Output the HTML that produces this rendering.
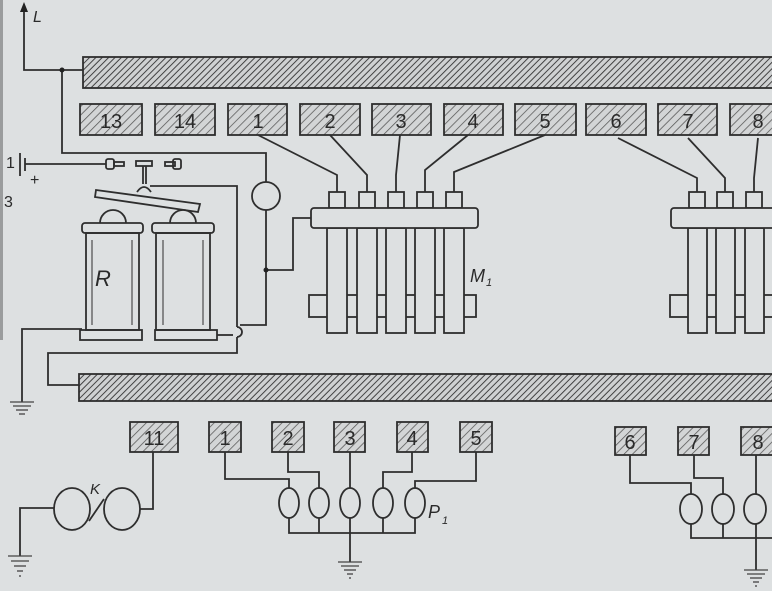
<!DOCTYPE html>
<html><head><meta charset="utf-8"><style>
html,body{margin:0;padding:0;background:#dde0e1;}
svg{display:block;}
text{font-family:"Liberation Sans",sans-serif;fill:#2a2a2a;}
</style></head><body>
<svg width="772" height="591" viewBox="0 0 772 591" xmlns="http://www.w3.org/2000/svg">
<defs>
<pattern id="h" width="4.5" height="4.5" patternUnits="userSpaceOnUse" patternTransform="rotate(45)">
<rect width="5" height="5" fill="#cfd1d2"/><line x1="0" y1="0" x2="0" y2="5" stroke="#333" stroke-width="1.8"/>
</pattern>
<pattern id="h2" width="6" height="6" patternUnits="userSpaceOnUse" patternTransform="rotate(45)">
<rect width="6" height="6" fill="#d3d5d6"/><line x1="0" y1="0" x2="0" y2="6" stroke="#555" stroke-width="1.5"/>
</pattern>
</defs>
<rect x="0" y="0" width="3" height="340" fill="#9a9c9d"/>
<g stroke="#2e2e2e" stroke-width="1.8" fill="none">
<rect x="83" y="57" width="700" height="31" fill="url(#h)"/>
<rect x="79" y="374" width="700" height="27" fill="url(#h)"/>
<rect x="80" y="104" width="62" height="31" fill="url(#h2)"/>
<rect x="155" y="104" width="60" height="31" fill="url(#h2)"/>
<rect x="228" y="104" width="59" height="31" fill="url(#h2)"/>
<rect x="300" y="104" width="60" height="31" fill="url(#h2)"/>
<rect x="372" y="104" width="59" height="31" fill="url(#h2)"/>
<rect x="444" y="104" width="59" height="31" fill="url(#h2)"/>
<rect x="515" y="104" width="61" height="31" fill="url(#h2)"/>
<rect x="586" y="104" width="60" height="31" fill="url(#h2)"/>
<rect x="658" y="104" width="59" height="31" fill="url(#h2)"/>
<rect x="730" y="104" width="50" height="31" fill="url(#h2)"/>
<polyline points="24,8 24,70 83,70"/>
<polyline points="62,70 62,153 266,153 266,182"/>
<circle cx="266" cy="196" r="14" fill="#dde0e1"/>
<polyline points="266,210 266,325 240,325"/>
<polyline points="266,270 293,270 293,218 311,218"/>
<line x1="20" y1="153" x2="20" y2="176"/><line x1="25" y1="158" x2="25" y2="171"/>
<line x1="25" y1="164" x2="106" y2="164"/>
<rect x="106" y="159" width="8" height="10" rx="2"/><rect x="114" y="162" width="10" height="4"/>
<rect x="136" y="161" width="16" height="5"/>
<rect x="165" y="162" width="10" height="4"/><rect x="173" y="159" width="8" height="10" rx="2"/>
<line x1="143" y1="166" x2="143" y2="184"/><line x1="146" y1="166" x2="146" y2="184"/>
<polyline points="150,186 237,186 237,327"/>
<path d="M237,327 a5,5 0 0 1 0,10" />
<polyline points="237,337 237,353 48,353 48,385 79,385"/>
<polygon points="96,190 200,204 198,212 95,197" fill="#dde0e1"/>
<path d="M137,192 q7,-10 14,0" fill="#dde0e1"/>
<path d="M100,223 a13,13 0 0 1 26,0" fill="#dde0e1"/>
<path d="M170,223 a13,13 0 0 1 26,0" fill="#dde0e1"/>
<rect x="82" y="223" width="61" height="10" rx="3" fill="#dde0e1"/>
<rect x="152" y="223" width="62" height="10" rx="3" fill="#dde0e1"/>
<rect x="86" y="233" width="53" height="97"/>
<rect x="156" y="233" width="54" height="97"/>
<line x1="92" y1="240" x2="92" y2="325" stroke-width="1"/><line x1="132" y1="240" x2="132" y2="325" stroke-width="1"/>
<line x1="163" y1="240" x2="163" y2="325" stroke-width="1"/><line x1="203" y1="240" x2="203" y2="325" stroke-width="1"/>
<rect x="80" y="330" width="62" height="10"/>
<rect x="155" y="330" width="62" height="10"/>
<polyline points="217,335 233,335"/>
<polyline points="82,329 22,329 22,402"/>
<rect x="309" y="295" width="167" height="22" fill="#dde0e1"/>
<g fill="#dde0e1">
<rect x="327" y="228" width="20" height="105"/><rect x="357" y="228" width="20" height="105"/>
<rect x="386" y="228" width="20" height="105"/><rect x="415" y="228" width="20" height="105"/>
<rect x="444" y="228" width="20" height="105"/>
<rect x="329" y="192" width="16" height="16"/><rect x="359" y="192" width="16" height="16"/>
<rect x="388" y="192" width="16" height="16"/><rect x="417" y="192" width="16" height="16"/>
<rect x="446" y="192" width="16" height="16"/>
<rect x="311" y="208" width="167" height="20" rx="3"/>
</g>
<polyline points="258,135 337,175 337,192"/>
<polyline points="330,135 367,175 367,192"/>
<polyline points="400,135 396,175 396,192"/>
<polyline points="468,135 425,170 425,192"/>
<polyline points="545,135 454,172 454,192"/>
<rect x="670" y="295" width="120" height="22" fill="#dde0e1"/>
<g fill="#dde0e1">
<rect x="688" y="228" width="19" height="105"/><rect x="716" y="228" width="19" height="105"/><rect x="745" y="228" width="19" height="105"/>
<rect x="689" y="192" width="16" height="16"/><rect x="717" y="192" width="16" height="16"/><rect x="746" y="192" width="16" height="16"/>
<rect x="671" y="208" width="120" height="20" rx="3"/>
</g>
<polyline points="618,138 697,178 697,192"/>
<polyline points="688,138 725,178 725,192"/>
<polyline points="758,138 754,178 754,192"/>
<rect x="130" y="422" width="48" height="30" fill="url(#h2)"/>
<rect x="209" y="422" width="32" height="30" fill="url(#h2)"/>
<rect x="272" y="422" width="32" height="30" fill="url(#h2)"/>
<rect x="334" y="422" width="31" height="30" fill="url(#h2)"/>
<rect x="397" y="422" width="31" height="30" fill="url(#h2)"/>
<rect x="460" y="422" width="32" height="30" fill="url(#h2)"/>
<rect x="615" y="427" width="31" height="28" fill="url(#h2)"/>
<rect x="678" y="427" width="31" height="28" fill="url(#h2)"/>
<rect x="741" y="427" width="35" height="28" fill="url(#h2)"/>
<g fill="#dde0e1">
<ellipse cx="289" cy="503" rx="10" ry="15"/><ellipse cx="319" cy="503" rx="10" ry="15"/>
<ellipse cx="350" cy="503" rx="10" ry="15"/><ellipse cx="383" cy="503" rx="10" ry="15"/>
<ellipse cx="415" cy="503" rx="10" ry="15"/>
<ellipse cx="691" cy="509" rx="11" ry="15"/><ellipse cx="723" cy="509" rx="11" ry="15"/><ellipse cx="755" cy="509" rx="11" ry="15"/>
</g>
<polyline points="225,452 225,479 289,479 289,488"/>
<polyline points="288,452 288,472 319,472 319,488"/>
<polyline points="350,452 350,488"/>
<polyline points="412,452 412,472 383,472 383,488"/>
<polyline points="476,452 476,481 415,481 415,488"/>
<polyline points="289,518 289,533 415,533 415,518"/>
<line x1="319" y1="518" x2="319" y2="533"/><line x1="383" y1="518" x2="383" y2="533"/>
<polyline points="350,518 350,562"/>
<polyline points="630,455 630,483 691,483 691,494"/>
<polyline points="694,455 694,478 723,478 723,494"/>
<polyline points="756,455 756,494"/>
<polyline points="691,524 691,538 772,538"/>
<line x1="723" y1="524" x2="723" y2="538"/>
<polyline points="756,524 756,570"/>
<ellipse cx="72" cy="509" rx="18" ry="21"/>
<ellipse cx="122" cy="509" rx="18" ry="21"/>
<line x1="89" y1="521" x2="104" y2="499"/>
<polyline points="140,509 153,509 153,452"/>
<polyline points="54,508 20,508 20,556"/>
</g>
<g stroke="#444" stroke-width="1.3">
<line x1="10" y1="402" x2="34" y2="402"/><line x1="13" y1="406" x2="31" y2="406"/><line x1="16" y1="410" x2="28" y2="410"/><line x1="19" y1="414" x2="25" y2="414"/>
<line x1="8" y1="556" x2="32" y2="556"/><line x1="11" y1="561" x2="29" y2="561"/><line x1="14" y1="566" x2="26" y2="566"/><line x1="17" y1="571" x2="23" y2="571"/><line x1="19" y1="576" x2="21" y2="576"/>
<line x1="338" y1="562" x2="362" y2="562"/><line x1="341" y1="566" x2="359" y2="566"/><line x1="344" y1="570" x2="356" y2="570"/><line x1="347" y1="574" x2="353" y2="574"/><line x1="349" y1="578" x2="351" y2="578"/>
<line x1="744" y1="570" x2="768" y2="570"/><line x1="747" y1="574" x2="765" y2="574"/><line x1="750" y1="578" x2="762" y2="578"/><line x1="753" y1="582" x2="759" y2="582"/><line x1="755" y1="586" x2="757" y2="586"/>
</g>
<polygon points="24,2 20,12 28,12" fill="#222"/>
<circle cx="62" cy="70" r="2.5" fill="#222"/>
<circle cx="266" cy="270" r="2.5" fill="#222"/>
<g font-size="20" text-anchor="middle">
<text x="111" y="128">13</text><text x="185" y="128">14</text><text x="258" y="128">1</text>
<text x="330" y="128">2</text><text x="401" y="128">3</text><text x="473" y="128">4</text>
<text x="545" y="128">5</text><text x="616" y="128">6</text><text x="688" y="128">7</text><text x="758" y="128">8</text>
<text x="154" y="445">11</text><text x="225" y="445">1</text><text x="288" y="445">2</text>
<text x="350" y="445">3</text><text x="412" y="445">4</text><text x="476" y="445">5</text>
<text x="630" y="449">6</text><text x="694" y="449">7</text><text x="758" y="449">8</text>
</g>
<g font-style="italic" font-size="18">
<text x="33" y="22" font-size="16">L</text>
<text x="95" y="286" font-size="22">R</text>
<text x="470" y="282">M</text><text x="486" y="286" font-size="11">1</text>
<text x="90" y="494" font-size="15">K</text>
<text x="428" y="518">P</text><text x="442" y="524" font-size="11">1</text>
<text x="6" y="168" font-size="16" font-style="normal">1</text>
<text x="30" y="185" font-size="16" font-style="normal">+</text>
<text x="4" y="207" font-size="16" font-style="normal">3</text>
</g>
</svg>
</body></html>
